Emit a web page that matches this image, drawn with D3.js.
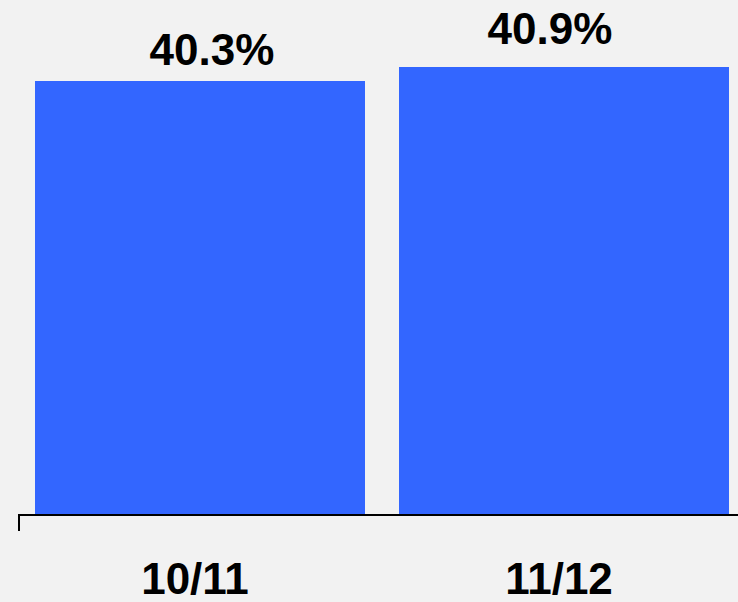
<!DOCTYPE html>
<html lang="en">
<head>
  <meta charset="utf-8">
  <title>Bar chart</title>
  <script src="https://cdn.jsdelivr.net/npm/d3@7"></script>
  <style>
    html, body { margin: 0; padding: 0; background: #f2f2f2; }
    svg { display: block; }
    text { font-family: "Liberation Sans", Arial, sans-serif; font-weight: bold; fill: #000; }
  </style>
</head>
<body>
<script>
  const categories = ["10/11", "11/12"];
  const values = [40.3, 40.9];
  const valueLabels = ["40.3%", "40.9%"];

  const width = 738;
  const height = 602;

  const svg = d3.select("body")
    .append("svg")
    .attr("width", width)
    .attr("height", height);

  svg.append("rect")
    .attr("width", width)
    .attr("height", height)
    .attr("fill", "#f2f2f2");

  const x = d3.scaleBand()
    .domain(categories)
    .range([18, 746])
    .paddingInner(0.0934)
    .paddingOuter(0.0467);

  // axis does not start at zero in the original
  const y = d3.scaleLinear()
    .domain([21.7, 40.9])
    .range([515, 67]);

  // value labels sit a little off the bar centres
  const labelX = d3.scalePoint().domain(categories).range([212, 550]);
  const labelY = d3.scaleLinear().domain([40.3, 40.9]).range([65, 44]);

  svg.append("g")
    .selectAll("rect")
    .data(values)
    .join("rect")
    .attr("x", (d, i) => x(categories[i]))
    .attr("y", d => y(d))
    .attr("width", x.bandwidth())
    .attr("height", d => y.range()[0] - y(d))
    .attr("fill", "#3366ff");

  const xAxis = d3.axisBottom(x).tickSize(0).tickPadding(48);
  const gx = svg.append("g")
    .attr("transform", `translate(0, ${y.range()[0]})`)
    .call(xAxis);
  gx.select(".domain").remove();
  gx.selectAll("text")
    .attr("font-size", 44)
    .attr("font-family", "Liberation Sans, Arial, sans-serif")
    .attr("font-weight", "bold")
    .attr("dx", -5)
    .attr("dy", 0)
    .attr("y", 79);

  svg.append("line")
    .attr("x1", 18).attr("x2", width)
    .attr("y1", 515).attr("y2", 515)
    .attr("stroke", "#000")
    .attr("stroke-width", 2);
  svg.append("line")
    .attr("x1", 19).attr("x2", 19)
    .attr("y1", 514).attr("y2", 531)
    .attr("stroke", "#000")
    .attr("stroke-width", 2);

  svg.append("g")
    .selectAll("text")
    .data(values)
    .join("text")
    .attr("x", (d, i) => labelX(categories[i]))
    .attr("y", d => labelY(d))
    .attr("text-anchor", "middle")
    .attr("font-size", 44)
    .text((d, i) => valueLabels[i]);
</script>
</body>
</html>
